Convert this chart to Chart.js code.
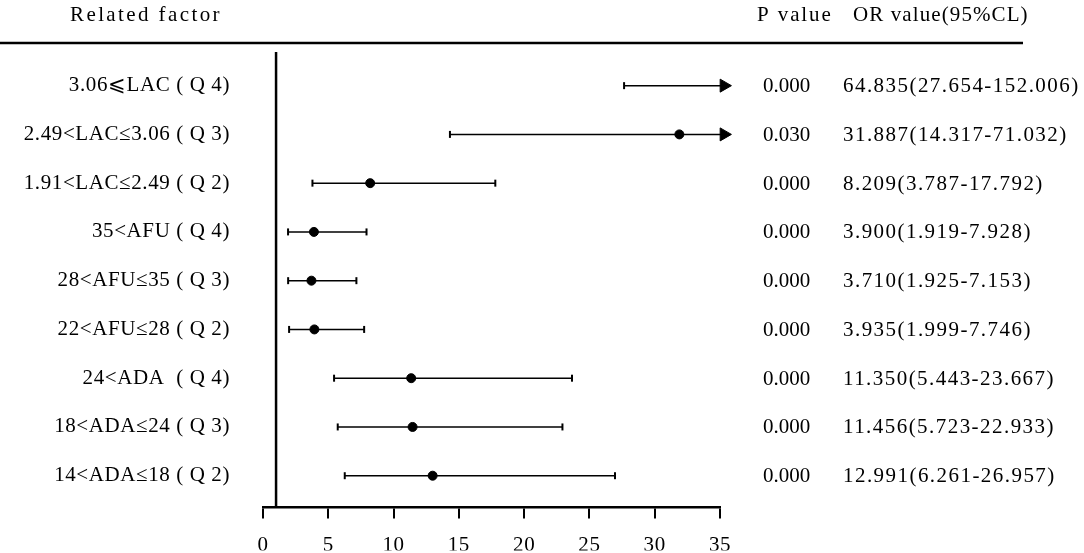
<!DOCTYPE html>
<html>
<head>
<meta charset="utf-8">
<script src="https://cdn.jsdelivr.net/npm/chart.js@4/dist/chart.umd.min.js"></script>
<style>
  body { margin: 0; background: #fff; }
  #wrap { width: 1084px; height: 553px; position: relative; }
</style>
</head>
<body>
<div id="wrap"><canvas id="forest"></canvas></div>
<script>
// rows, top to bottom
const factors = ['3.06\u2A7DLAC ( Q 4)', '2.49<LAC\u22643.06 ( Q 3)', '1.91<LAC\u22642.49 ( Q 2)',
    '35<AFU ( Q 4)', '28<AFU\u226435 ( Q 3)', '22<AFU\u226428 ( Q 2)',
    '24<ADA  ( Q 4)', '18<ADA\u226424 ( Q 3)', '14<ADA\u226418 ( Q 2)'];
const pValues = ['0.000', '0.030', '0.000', '0.000', '0.000', '0.000', '0.000', '0.000', '0.000'];
const orValues = [64.835, 31.887, 8.209, 3.900, 3.710, 3.935, 11.350, 11.456, 12.991];
const lowerCI = [27.654, 14.317, 3.787, 1.919, 1.925, 1.999, 5.443, 5.723, 6.261];
const upperCI = [152.006, 71.032, 17.792, 7.928, 7.153, 7.746, 23.667, 22.933, 26.957];
const xTicks = [0, 5, 10, 15, 20, 25, 30, 35];

const X_MAX = 35;
const ARROW_AT = 35.3;   // where an off-scale interval gets its arrow
const Y_MIN = 0.31, Y_MAX = 9.65;
const FONT = 'Liberation Serif';

const datasets = [];

// reference line at OR = 1
datasets.push({
    type: 'line',
    data: [{ x: 1, y: Y_MIN }, { x: 1, y: Y_MAX }],
    borderColor: '#000',
    borderWidth: 2.5,
    pointRadius: 0,
    clip: false
});

// confidence intervals
factors.forEach((f, i) => {
    const over = upperCI[i] > X_MAX;
    datasets.push({
        type: 'line',
        data: [{ x: lowerCI[i], y: i + 1 }, { x: over ? ARROW_AT : upperCI[i], y: i + 1 }],
        borderColor: '#000',
        borderWidth: 1.5,
        pointStyle: ['line', over ? 'triangle' : 'line'],
        rotation: 90,
        pointRadius: [3.5, over ? 7.5 : 3.5],
        pointBorderWidth: [2, over ? 1 : 2],
        pointBorderColor: '#000',
        pointBackgroundColor: '#000',
        clip: false
    });
});

// OR point estimates (only those on the scale)
datasets.push({
    type: 'scatter',
    data: orValues.map((v, i) => ({ x: v, y: i + 1 })).filter(p => p.x <= X_MAX),
    pointRadius: 4.5,
    pointBackgroundColor: '#000',
    pointBorderColor: '#000',
    clip: false
});

function spaced(ctx, text, x, y, gap) {
    ctx.letterSpacing = gap + 'px';
    ctx.fillText(text, x, y);
}

// header, top rule and the P / OR columns
const tablePlugin = {
    id: 'table',
    beforeDraw(chart) {
        // labels drawn by the y axis get a little tracking
        chart.ctx.letterSpacing = '0.6px';
    },
    afterDraw(chart) {
        const ctx = chart.ctx;
        const y = chart.scales.y;
        ctx.save();
        ctx.fillStyle = '#000';
        ctx.font = '21px "' + FONT + '"';
        ctx.textBaseline = 'middle';
        ctx.textAlign = 'left';
        spaced(ctx, 'Related factor', 70, 15, 2.4);
        spaced(ctx, 'P value', 757, 15, 1.9);
        spaced(ctx, 'OR value(95%CL)', 853, 15, 1.1);

        ctx.strokeStyle = '#000';
        ctx.lineWidth = 2.5;
        ctx.beginPath();
        ctx.moveTo(0, 43);
        ctx.lineTo(1023, 43);
        ctx.stroke();

        factors.forEach((f, i) => {
            const py = y.getPixelForValue(i + 1) + 1;
            spaced(ctx, pValues[i], 763, py, 0);
            const txt = orValues[i].toFixed(3) + '(' + lowerCI[i].toFixed(3) + '-' + upperCI[i].toFixed(3) + ')';
            spaced(ctx, txt, 843, py, 1.45);
        });
        ctx.restore();
        ctx.letterSpacing = '0px';
    }
};

new Chart(document.getElementById('forest'), {
    data: { datasets: datasets },
    options: {
        responsive: true,
        maintainAspectRatio: false,
        animation: false,
        layout: { padding: { top: 52, right: 364, left: 0, bottom: 0 } },
        plugins: { legend: { display: false }, tooltip: { enabled: false } },
        scales: {
            x: {
                type: 'linear',
                min: 0,
                max: X_MAX,
                afterBuildTicks: (scale) => { scale.ticks = xTicks.map(v => ({ value: v })); },
                afterFit: (scale) => { scale.height = 43; },
                grid: { drawOnChartArea: false, drawTicks: true, tickLength: 11, color: '#000', lineWidth: 2 },
                border: { display: true, color: '#000', width: 2.5 },
                ticks: { color: '#000', padding: 14, font: { family: FONT, size: 21 } }
            },
            y: {
                type: 'linear',
                reverse: true,
                min: Y_MIN,
                max: Y_MAX,
                afterBuildTicks: (scale) => { scale.ticks = factors.map((f, i) => ({ value: i + 1 })); },
                afterFit: (scale) => { scale.width = 263; },
                grid: { display: false, drawTicks: false },
                border: { display: false },
                ticks: {
                    color: '#000',
                    padding: 33,
                    autoSkip: false,
                    font: { family: FONT, size: 21 },
                    callback: (v) => factors[v - 1]
                }
            }
        }
    },
    plugins: [tablePlugin]
});
</script>
</body>
</html>
